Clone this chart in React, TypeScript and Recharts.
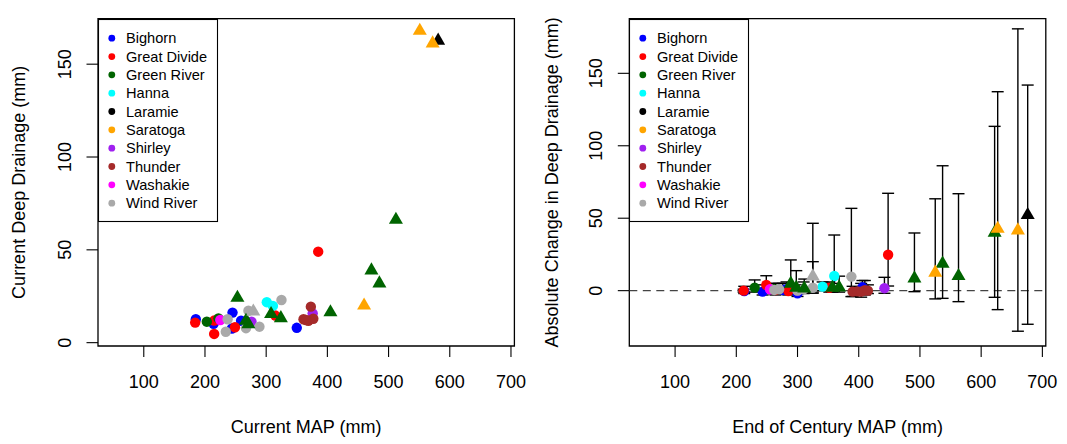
import React from 'react';
import { ScatterChart, Scatter, XAxis, YAxis, ErrorBar, ReferenceArea, ReferenceLine, Legend } from 'recharts';

const FONT = '"Liberation Sans", Arial, Helvetica, sans-serif';

const SITES = ['Bighorn', 'Great Divide', 'Green River', 'Hanna', 'Laramie', 'Saratoga', 'Shirley', 'Thunder', 'Washakie', 'Wind River'];
const SITE_COLORS = ['#0000FF', '#FF0000', '#006400', '#00FFFF', '#000000', '#FFA500', '#A020F0', '#A52A2A', '#FF00FF', '#A9A9A9'];

const X_TICKS = [100, 200, 300, 400, 500, 600, 700];
const Y_TICKS_LEFT = [0, 50, 100, 150];
const Y_TICKS_RIGHT = [0, 50, 100, 150];

// Current: [MAP, deep drainage]
const bighornNow = [[185, 12.6], [214, 10.2], [245, 16.2], [259, 11.8], [244, 7.6], [350, 8.0]];
const greatDivideNow = [[184, 10.8], [215, 11.9], [215, 4.7], [249, 8.3], [315, 14.6], [385, 49.0]];
const greenRiverNow = [[203, 11.3], [222, 13.1]];
const greenRiverNowTri = [[253, 24.2], [267, 11.8], [271, 10.0], [308, 15.4], [324, 13.2], [405, 16.4], [472, 38.9], [485, 31.9], [512, 66.2]];
const hannaNow = [[301, 21.8], [311, 19.8]];
const laramieNowTri = [[581, 162.7]];
const saratogaNowTri = [[551, 168.0], [572, 161.2], [460, 20.0]];
const shirleyNow = [[376, 15.8], [276, 11.3]];
const thunderNow = [[373, 19.4], [361, 12.6], [369, 11.8], [377, 12.9], [365, 12.2]];
const washakieNow = [[225, 12.2]];
const windRiverNow = [[325, 23.0], [271, 17.2], [267, 7.8], [289, 8.6], [234, 5.9], [237, 12.6]];
const windRiverNowTri = [[279, 16.8]];

// End of century: [MAP, change, lower, upper]
const bighornFut = [[213, -0.3, -2, 3], [243, -0.7, -3, 4], [276, 0.5, -2, 5], [300, -1.8, -4, 3], [282, 1, -2, 6], [406, 2.3, -1, 7]];
const greatDivideFut = [[212, 0, -1, 1], [249, 3.9, -0.5, 10.3], [285, -0.3, -3, 3], [264, 0.5, -3, 5], [352, 2, -1, 6], [448, 24.8, 3.2, 67.2]];
const greenRiverFut = [[230, 2.1, -1, 7.4], [262, 1, -2, 5]];
const greenRiverFutTri = [[289, 4.8, -1, 21.2], [298, 2, -2, 13.8], [311, 1.5, -1, 8], [357, 2, -1, 5], [368, 2.2, -1, 10], [491, 8.5, -0.7, 39.8], [537, 18.6, -5.3, 86.2], [563, 10.1, -7.6, 66.9], [622, 40, -4.6, 113.4]];
const hannaFut = [[341, 2.8, 0, 6], [360, 10.1, 0.5, 38.4]];
const laramieFutTri = [[676, 52.2, -23.2, 141.9]];
const saratogaFutTri = [[525, 12.4, -5.7, 63.4], [627, 42.7, -13.1, 137.3], [660, 41.6, -28, 180.7]];
const shirleyFut = [[442, 1.7, -1.8, 9.2], [300, 0, -2, 3]];
const thunderFut = [[390, -0.7, -4, 3], [398, -0.5, -3, 2], [404, -0.7, -4.5, 5], [410, 0.3, -3, 7], [415, 0, -2, 4]];
const washakieFut = [[255, 1, -1, 3]];
const windRiverFut = [[388, 9.7, -4.1, 56.8], [262, 0.5, -2, 3], [270, 1, -2, 5], [300, 0, -2, 4], [325, 2, -1, 20], [310, 1, -2, 6]];
const windRiverFutTri = [[325, 9.8, -1.8, 46.5]];

const NOW_CIRCLES = [bighornNow, greatDivideNow, greenRiverNow, hannaNow, [], [], shirleyNow, thunderNow, washakieNow, windRiverNow];
const NOW_TRIS = [[], [], greenRiverNowTri, [], laramieNowTri, saratogaNowTri, [], [], [], windRiverNowTri];
const FUT_CIRCLES = [bighornFut, greatDivideFut, greenRiverFut, hannaFut, [], [], shirleyFut, thunderFut, washakieFut, windRiverFut];
const FUT_TRIS = [[], [], greenRiverFutTri, [], laramieFutTri, saratogaFutTri, [], [], [], windRiverFutTri];

const X_DOMAIN = [25.2, 705.6];
const Y_DOMAIN_LEFT = [-1.8, 174.5];
const Y_DOMAIN_RIGHT = [-38.2, 187.7];

const circleShape = (color: string) => (p: any) => <circle cx={p.cx} cy={p.cy} r={5.2} fill={color} />;
const triShape = (color: string) => (p: any) => {
  const R = 5.2;
  const { cx, cy } = p;
  const pts = `${cx},${cy - 1.555 * R} ${cx + 1.347 * R},${cy + 0.778 * R} ${cx - 1.347 * R},${cy + 0.778 * R}`;
  return <polygon points={pts} fill={color} />;
};

const RotTick = (props: any) => {
  const { x, y, payload } = props;
  return (
    <text x={x} y={y} transform={`rotate(-90 ${x} ${y})`} textAnchor="middle" fontSize={18} fill="#000" fontFamily={FONT}>
      {payload.value}
    </text>
  );
};

const LegendBox = () => (
  <svg width={121} height={204} style={{ display: 'block' }}>
    <rect x={0.5} y={0.5} width={119} height={202} fill="#fff" stroke="#000" strokeWidth={1.1} />
    {SITES.map((s, i) => {
      const cy = 19.2 + i * 18.33;
      return (
        <g key={s}>
          <circle cx={13.8} cy={cy} r={3.4} fill={SITE_COLORS[i]} />
          <text x={28} y={cy + 5.2} fontSize={14.6} fill="#000" fontFamily={FONT}>{s}</text>
        </g>
      );
    })}
  </svg>
);

const toNow = (arr: number[][]) => arr.map(([x, y]) => ({ x, y }));
const toFut = (arr: number[][]) => arr.map(([x, y, lo, hi]) => ({ x, y, err: [y - lo, hi - y] }));

type PanelProps = {
  width: number;
  yAxisWidth: number;
  right: number;
  yDomain: number[];
  yTicks: number[];
  yTickMargin: number;
  xTitle: string;
  yTitle: string;
  future: boolean;
};

const Panel = ({ width, yAxisWidth, right, yDomain, yTicks, yTickMargin, xTitle, yTitle, future }: PanelProps) => {
  const boxLeft = yAxisWidth;
  const boxRight = width - right;
  const xc = (boxLeft + boxRight) / 2;
  const yc = (18.7 + 346) / 2;
  return (
    <ScatterChart width={width} height={444} margin={{ top: 18.7, right, bottom: 0, left: 0 }}>
      <XAxis
        type="number"
        dataKey="x"
        domain={X_DOMAIN}
        ticks={X_TICKS}
        interval={0}
        allowDataOverflow
        axisLine={false}
        tickSize={11}
        tickMargin={18}
        tickLine={{ stroke: '#000', strokeWidth: 1.1 }}
        tick={{ fontSize: 18, fill: '#000', fontFamily: FONT }}
        height={98}
        label={() => (
          <text x={xc} y={433} textAnchor="middle" fontSize={18} fill="#000" fontFamily={FONT}>{xTitle}</text>
        )}
      />
      <YAxis
        type="number"
        dataKey="y"
        domain={yDomain}
        ticks={yTicks}
        interval={0}
        allowDataOverflow
        axisLine={false}
        tickSize={11.5}
        tickMargin={yTickMargin}
        tickLine={{ stroke: '#000', strokeWidth: 1.1 }}
        tick={<RotTick />}
        width={yAxisWidth}
        label={() => (
          <text x={-yc} y={25} transform="rotate(-90)" textAnchor="middle" fontSize={18} fill="#000" fontFamily={FONT}>{yTitle}</text>
        )}
      />
      {future && <ReferenceLine y={0} stroke="#444" strokeWidth={1.3} strokeDasharray="8 5.5" />}
      {SITES.map((s, i) => {
        const circ = future ? FUT_CIRCLES[i] : NOW_CIRCLES[i];
        if (!circ.length) return null;
        return (
          <Scatter key={`c-${s}`} name={s} data={future ? toFut(circ) : toNow(circ)} shape={circleShape(SITE_COLORS[i])} isAnimationActive={false}>
            {future && <ErrorBar dataKey="err" direction="y" width={6} stroke="#000" strokeWidth={1.4} />}
          </Scatter>
        );
      })}
      {SITES.map((s, i) => {
        const tri = future ? FUT_TRIS[i] : NOW_TRIS[i];
        if (!tri.length) return null;
        return (
          <Scatter key={`t-${s}`} name={s} data={future ? toFut(tri) : toNow(tri)} shape={triShape(SITE_COLORS[i])} isAnimationActive={false}>
            {future && <ErrorBar dataKey="err" direction="y" width={6} stroke="#000" strokeWidth={1.4} />}
          </Scatter>
        );
      })}
      <ReferenceArea x1={X_DOMAIN[0]} x2={X_DOMAIN[1]} y1={yDomain[0]} y2={yDomain[1]} fill="none" fillOpacity={0} stroke="#000" strokeWidth={1.3} ifOverflow="visible" />
      <Legend
        layout="vertical"
        align="center"
        verticalAlign="middle"
        wrapperStyle={{ left: boxLeft, top: 18.7, width: 121, height: 204 }}
        content={() => <LegendBox />}
      />
    </ScatterChart>
  );
};

export default function App() {
  return (
    <div style={{ position: 'absolute', left: 0, top: 0, width: 1067, height: 444, background: '#fff' }}>
      <div style={{ position: 'absolute', left: 0, top: 0 }}>
        <Panel
          width={533}
          yAxisWidth={98}
          right={18.6}
          yDomain={Y_DOMAIN_LEFT}
          yTicks={Y_TICKS_LEFT}
          yTickMargin={15}
          xTitle="Current MAP (mm)"
          yTitle="Current Deep Drainage (mm)"
          future={false}
        />
      </div>
      <div style={{ position: 'absolute', left: 533, top: 0 }}>
        <Panel
          width={534}
          yAxisWidth={96.3}
          right={21.2}
          yDomain={Y_DOMAIN_RIGHT}
          yTicks={Y_TICKS_RIGHT}
          yTickMargin={15.6}
          xTitle="End of Century MAP (mm)"
          yTitle="Absolute Change in Deep Drainage (mm)"
          future={true}
        />
      </div>
    </div>
  );
}
